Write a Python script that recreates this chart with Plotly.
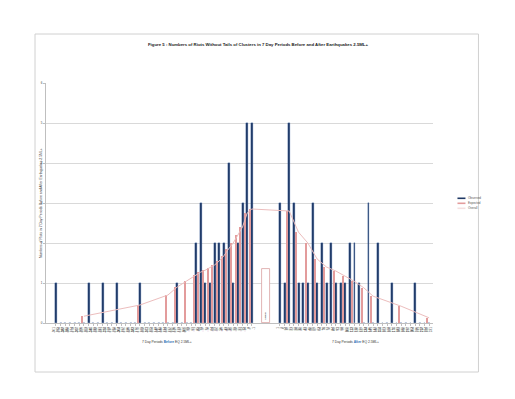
import plotly.graph_objects as go

# ---- data ----
cats_before = list(range(0, 43))          # 43 seven-day periods before EQ
cats_after = list(range(48, 81))          # 33 seven-day periods after EQ
labels_before = [f"-{7*n}<br>-{7*n-6}" for n in range(43, 0, -1)]
labels_after = [f"{7*n-6}<br>{7*n}" for n in range(1, 34)]

observed_before = [1, 0, 0, 0, 0, 0, 0, 1, 0, 0, 1, 0, 0, 1, 0, 0, 0, 0, 1, 0,
                   0, 0, 0, 0, 0, 0, 1, 0, 0, 0, 2, 3, 1, 1, 2, 2, 2, 4, 1, 2,
                   3, 5, 5]
observed_after = [3, 1, 5, 3, 1, 1, 1, 3, 1, 2, 1, 2, 1, 1, 1, 2, 2, 1, 0, 3,
                  0, 2, 0, 0, 1, 0, 0, 0, 0, 1, 0, 0, 0]

N = None
expected_before = [N, N, N, N, N, N, 0.17, N, N, N, N, N, N, N, N, N, N, N, 0.45, N,
                   N, N, N, N, 0.70, N, 0.90, N, 1.05, N, 1.20, 1.27, 1.32, 1.38, 1.45,
                   1.55, 1.68, 1.85, 2.00, 2.20, 2.40, 2.75, 2.85]
expected_after = [N, N, 2.80, N, 2.27, N, 2.00, N, 1.60, N, 1.40, N, 1.30, N, 1.17,
                  N, 1.04, N, 0.88, N, 0.67, N, N, N, N, N, 0.42, N, N, N, N, N, 0.13]

eq_position = [45]
eq_height = [1.35]
eq_label = ["Earthquake"]

legend_names = ["Observed", "Expected", "Overall"]

title_text = ("Figure 5 : Numbers of Riots Without Tails of Clusters in 7 Day Periods "
              "Before and After Earthquakes 2.5ML+")
y_title = "Numbers of Riots in 7 Day Periods Before and After Earthquakes 2.5ML+"

cats = cats_before + cats_after
observed = observed_before + observed_after
expected = expected_before + expected_after
labels = labels_before + labels_after

FONT = "Liberation Sans"
NAVY = "#1F3864"
PINK = "#E39C9C"
PINK_LINE = "#ECBDBD"
FAINT = "#F4E0E0"

# page offset (body margin) and plot-area box, in window pixels
OFF = 8
L, R, T, B = 46, 433.5, 83, 323
W, H = 515 - OFF, 399 - OFF
pw, ph = R - L, B - T


def px(x):
    return (x - L) / pw


def py(y):
    return (B - y) / ph


fig = go.Figure()
fig.add_trace(go.Bar(
    x=cats, y=observed, name=legend_names[0], width=0.40, offset=-0.18,
    marker=dict(color=NAVY, line=dict(color="#3C64A8", width=0.3)),
    showlegend=False,
))
fig.add_trace(go.Bar(
    x=cats, y=expected, name=legend_names[1], width=0.28, offset=-0.55,
    marker=dict(color=PINK, line=dict(width=0)), showlegend=False,
))
fig.add_trace(go.Scatter(
    x=cats, y=expected, name=legend_names[2], mode="lines", connectgaps=True,
    line=dict(color=PINK_LINE, width=1), showlegend=False,
))
fig.add_trace(go.Bar(
    x=eq_position, y=eq_height, width=1.6, showlegend=False,
    marker=dict(color="white", line=dict(color="#D9A0A0", width=0.8)),
    text=eq_label, textposition="inside", insidetextanchor="start",
    textangle=-90, textfont=dict(size=3, color="#555555", family=FONT),
    hoverinfo="skip",
))

# manual legend (small line keys + labels)
legend_y = [198.3, 203.3, 208.3]
legend_colors = [NAVY, PINK, FAINT]
shapes = [dict(type="rect", xref="paper", yref="paper",
               x0=px(35), x1=px(479), y0=py(372), y1=py(34),
               line=dict(color="#D0D0D0", width=1), fillcolor="rgba(0,0,0,0)",
               layer="below")]
annotations = []
for name, yy, col in zip(legend_names, legend_y, legend_colors):
    shapes.append(dict(type="line", xref="paper", yref="paper",
                       x0=px(458), x1=px(466), y0=py(yy), y1=py(yy),
                       line=dict(color=col, width=1.6)))
    annotations.append(dict(text=name, x=px(467), y=py(yy), xref="paper",
                            yref="paper", xanchor="left", yanchor="middle",
                            showarrow=False, font=dict(size=3, color="#555555")))

annotations += [
    dict(text="<b>" + title_text + "</b>", x=px(258), y=py(40), xref="paper",
         yref="paper", showarrow=False, font=dict(size=4.3, color="#222222")),
    dict(text=y_title, x=px(37), y=py(203), xref="paper", yref="paper",
         showarrow=False, textangle=-90, font=dict(size=3.4, color="#333333")),
    dict(text="7 Day Periods <b><span style='color:#2E75B6'>Before</span></b> EQ 2.5ML+",
         x=px(140), y=py(346), xref="paper", yref="paper", showarrow=False,
         font=dict(size=3.3, color="#333333")),
    dict(text="7 Day Periods <b><span style='color:#2E75B6'>After</span></b> EQ 2.5ML+",
         x=px(381), y=py(346), xref="paper", yref="paper", showarrow=False,
         font=dict(size=3.3, color="#333333")),
]

fig.update_layout(
    width=W, height=H,
    margin=dict(l=L - OFF, r=W - (R - OFF), t=T - OFF, b=H - (B - OFF), pad=0,
                autoexpand=False),
    paper_bgcolor="white", plot_bgcolor="white",
    barmode="overlay", bargap=0,
    font=dict(family=FONT, size=4, color="#333333"),
    showlegend=False,
    xaxis=dict(range=[-2.14, 80.84], tickmode="array", tickvals=cats,
               ticktext=labels, tickangle=-90, tickfont=dict(size=3, color="#444444"),
               showgrid=False, zeroline=False, showline=True, linecolor="#BFBFBF",
               linewidth=1, ticks="outside", ticklen=2, tickcolor="#BFBFBF"),
    yaxis=dict(range=[0, 6], tickvals=[0, 1, 2, 3, 4, 5, 6],
               tickfont=dict(size=3, color="#444444"),
               showgrid=True, gridcolor="#D9D9D9", gridwidth=1, zeroline=False,
               showline=True, linecolor="#BFBFBF", linewidth=1,
               ticks="outside", ticklen=2, tickcolor="#BFBFBF"),
    shapes=shapes,
    annotations=annotations,
)

fig.write_html("out.html")
